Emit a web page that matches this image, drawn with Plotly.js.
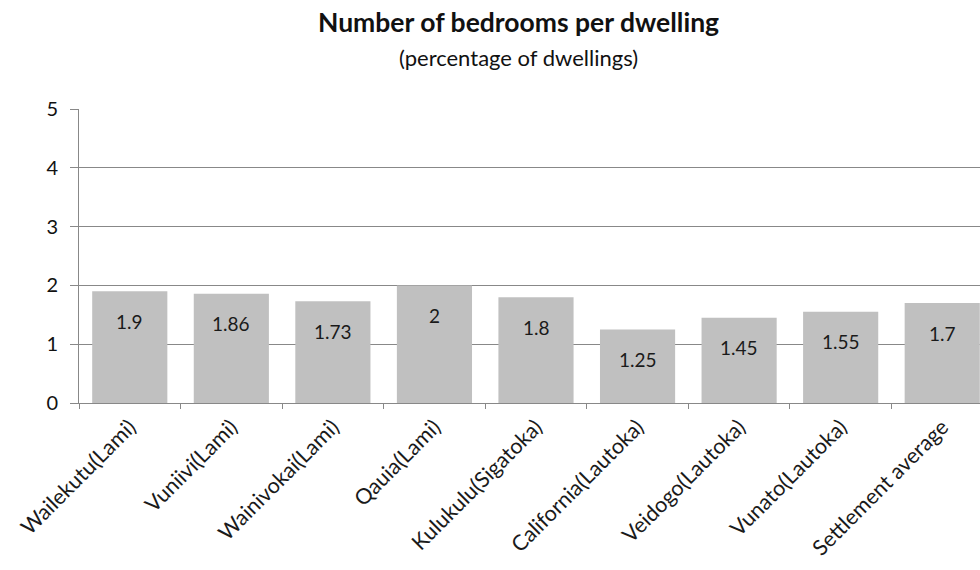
<!DOCTYPE html>
<html>
<head>
<meta charset="utf-8">
<script src="https://cdn.plot.ly/plotly-3.0.1.min.js"></script>
<style>
html, body { margin:0; padding:0; background:#fff; overflow:hidden; width:980px; height:570px; }
#chart { width:1000px; height:570px; }
</style>
</head>
<body>
<div id="chart"></div>
<script>
const categories = ["Wailekutu(Lami)", "Vuniivi(Lami)", "Wainivokai(Lami)", "Qauia(Lami)", "Kulukulu(Sigatoka)", "California(Lautoka)", "Veidogo(Lautoka)", "Vunato(Lautoka)", "Settlement average"];
const values = [1.9, 1.86, 1.73, 2, 1.8, 1.25, 1.45, 1.55, 1.7];
const valueLabels = ["1.9", "1.86", "1.73", "2", "1.8", "1.25", "1.45", "1.55", "1.7"];
const yTicks = [0, 1, 2, 3, 4, 5];

const FONT = "Lato, 'Open Sans', sans-serif";

const trace = {
  type: "bar",
  x: categories,
  y: values,
  marker: { color: "#c0c0c0", line: { width: 0 } },
  hoverinfo: "skip"
};

const annotations = categories.map((c, i) => ({
  x: c, y: values[i], xref: "x", yref: "y",
  text: valueLabels[i], showarrow: false,
  yanchor: "middle", yshift: -30,
  font: { family: FONT, size: 19, color: "#1a1a1a" }
}));

annotations.push({
  xref: "paper", yref: "paper", x: 0.481, y: 1, yshift: 87, yanchor: "middle",
  text: "<b>Number of bedrooms per dwelling</b>", showarrow: false,
  font: { family: FONT, size: 26.5, color: "#111" }
});
annotations.push({
  xref: "paper", yref: "paper", x: 0.481, y: 1, yshift: 52, yanchor: "middle",
  text: "(percentage of dwellings)", showarrow: false,
  font: { family: FONT, size: 22, color: "#111" }
});

const layout = {
  width: 1000, height: 570,
  margin: { l: 79, r: 7, t: 109, b: 167 },
  paper_bgcolor: "#fff", plot_bgcolor: "#fff",
  showlegend: false,
  bargap: 0.26,
  xaxis: {
    type: "category",
    tickangle: -45,
    ticks: "outside", ticklen: 5, tickcolor: "#888", tickwidth: 1,
    tickson: "boundaries",
    ticklabelstandoff: 2,
    showline: true, linecolor: "#888", linewidth: 1,
    showgrid: false,
    tickfont: { family: FONT, size: 21.5, color: "#1a1a1a" },
    range: [-0.5, 8.5]
  },
  yaxis: {
    range: [0, 5],
    tickvals: yTicks,
    ticks: "outside", ticklen: 8, tickcolor: "#888", tickwidth: 1,
    showline: true, linecolor: "#888", linewidth: 1,
    showgrid: true, gridcolor: "#888", gridwidth: 1,
    zeroline: false,
    ticklabelstandoff: 8,
    tickfont: { family: FONT, size: 20, color: "#111" },
    fixedrange: true
  },
  annotations: annotations
};

Plotly.newPlot("chart", [trace], layout, { displayModeBar: false, staticPlot: true });
</script>
</body>
</html>
